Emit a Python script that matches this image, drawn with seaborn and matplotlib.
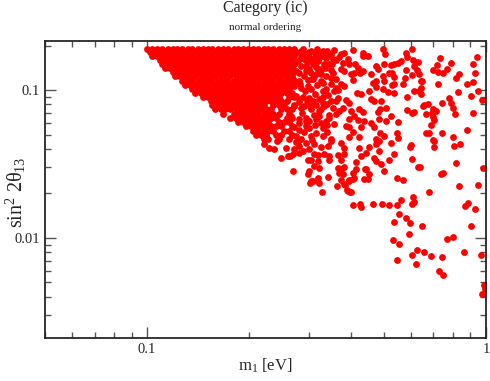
import numpy as np
import pandas as pd
import matplotlib
matplotlib.use("Agg")
import matplotlib.pyplot as plt
import matplotlib.ticker as mticker
import seaborn as sns

# dense band, read row by row (sin^2 2theta13 level -> m1 values)
row_s13 = [0.190, 0.181, 0.170, 0.160, 0.150, 0.141, 0.132, 0.124, 0.116, 0.109, 0.102, 0.096,
           0.090, 0.084, 0.079, 0.074, 0.069, 0.065, 0.061, 0.057, 0.053, 0.050, 0.047]
row_m1 = [
    [0.100, 0.1035, 0.107, 0.111, 0.115, 0.119, 0.123, 0.127, 0.132, 0.136, 0.141, 0.146, 0.151, 0.156, 0.162,
     0.168, 0.173, 0.180, 0.186, 0.192, 0.199, 0.206, 0.213, 0.221, 0.228, 0.236, 0.245, 0.253, 0.262, 0.271],
    [0.102, 0.105, 0.109, 0.113, 0.117, 0.121, 0.125, 0.129, 0.134, 0.139, 0.144, 0.149, 0.154, 0.159, 0.165,
     0.170, 0.176, 0.183, 0.189, 0.196, 0.202, 0.210, 0.217, 0.224, 0.232, 0.240, 0.249, 0.258, 0.267, 0.276],
    [0.1035, 0.107, 0.111, 0.115, 0.119, 0.123, 0.127, 0.132, 0.136, 0.141, 0.146, 0.151, 0.156, 0.162,
     0.168, 0.173, 0.180, 0.186, 0.192, 0.199, 0.206, 0.213, 0.221, 0.228, 0.236, 0.245, 0.253, 0.262, 0.271],
    [0.109, 0.113, 0.117, 0.121, 0.125, 0.129, 0.134, 0.139, 0.144, 0.149, 0.154, 0.159, 0.165,
     0.170, 0.176, 0.183, 0.189, 0.196, 0.202, 0.210, 0.217, 0.224, 0.232, 0.240, 0.249, 0.258, 0.267],
    [0.111, 0.115, 0.119, 0.123, 0.127, 0.132, 0.136, 0.141, 0.146, 0.151, 0.156, 0.162,
     0.168, 0.173, 0.180, 0.186, 0.192, 0.199, 0.206, 0.213, 0.221, 0.228, 0.236, 0.245, 0.253, 0.262, 0.271],
    [0.113, 0.117, 0.121, 0.125, 0.129, 0.134, 0.139, 0.144, 0.149, 0.154, 0.159, 0.165,
     0.170, 0.176, 0.183, 0.189, 0.196, 0.202, 0.210, 0.217, 0.224, 0.232, 0.240, 0.249, 0.258, 0.267],
    [0.119, 0.123, 0.127, 0.132, 0.136, 0.141, 0.146, 0.151, 0.156, 0.162,
     0.168, 0.173, 0.180, 0.186, 0.192, 0.199, 0.206, 0.213, 0.221, 0.228, 0.236, 0.245, 0.253, 0.262, 0.271],
    [0.121, 0.125, 0.129, 0.134, 0.139, 0.144, 0.149, 0.154, 0.159, 0.165,
     0.170, 0.176, 0.183, 0.189, 0.196, 0.202, 0.210, 0.217, 0.224, 0.232, 0.240, 0.249, 0.258, 0.267],
    [0.127, 0.132, 0.136, 0.141, 0.146, 0.151, 0.156, 0.162,
     0.168, 0.173, 0.180, 0.186, 0.192, 0.199, 0.206, 0.213, 0.221, 0.228, 0.236, 0.245, 0.253, 0.262, 0.271],
    [0.129, 0.134, 0.139, 0.144, 0.149, 0.154, 0.159, 0.165,
     0.170, 0.176, 0.183, 0.189, 0.196, 0.202, 0.210, 0.217, 0.224, 0.232, 0.240, 0.249, 0.258, 0.267],
    [0.136, 0.141, 0.146, 0.151, 0.156, 0.162,
     0.168, 0.173, 0.180, 0.186, 0.192, 0.199, 0.206, 0.213, 0.221, 0.228, 0.236, 0.245, 0.253, 0.262],
    [0.139, 0.144, 0.149, 0.154, 0.159, 0.165,
     0.170, 0.176, 0.183, 0.189, 0.196, 0.202, 0.210, 0.217, 0.224, 0.232, 0.240, 0.249, 0.258, 0.267],
    [0.146, 0.151, 0.156, 0.162,
     0.168, 0.173, 0.180, 0.186, 0.192, 0.199, 0.206, 0.213, 0.221, 0.228, 0.236, 0.245, 0.262, 0.271],
    [0.154, 0.159, 0.165,
     0.170, 0.176, 0.183, 0.189, 0.196, 0.202, 0.210, 0.217, 0.224, 0.232, 0.240, 0.249, 0.258],
    [0.156, 0.162,
     0.168, 0.173, 0.180, 0.186, 0.192, 0.199, 0.206, 0.213, 0.221, 0.236, 0.245, 0.253, 0.271],
    [0.159, 0.165,
     0.170, 0.176, 0.183, 0.189, 0.196, 0.202, 0.210, 0.217, 0.224, 0.232, 0.249, 0.258, 0.267],
    [0.168, 0.180, 0.186, 0.192, 0.199, 0.206, 0.213, 0.221, 0.228, 0.236, 0.245, 0.262],
    [0.176, 0.183, 0.189, 0.196, 0.202, 0.210, 0.217, 0.224, 0.232, 0.240, 0.258, 0.267],
    [0.186, 0.192, 0.199, 0.206, 0.213, 0.221, 0.228, 0.245, 0.253, 0.262],
    [0.196, 0.202, 0.210, 0.217, 0.224, 0.232, 0.240, 0.249, 0.267],
    [0.206, 0.213, 0.221, 0.228, 0.236, 0.253, 0.262],
    [0.210, 0.217, 0.224, 0.240, 0.249, 0.267],
    [0.221, 0.228, 0.245, 0.262],
]

# the band thinning out between m1 ~ 0.27 and 0.36
band_edge = [
    (0.288, 0.190), (0.300, 0.181), (0.318, 0.190), (0.340, 0.183), (0.357, 0.188), (0.290, 0.172),
    (0.312, 0.170), (0.345, 0.172), (0.362, 0.160), (0.279, 0.157), (0.297, 0.155), (0.320, 0.158),
    (0.336, 0.142), (0.300, 0.139), (0.290, 0.125), (0.312, 0.127), (0.338, 0.124), (0.360, 0.118),
    (0.283, 0.110), (0.318, 0.108), (0.350, 0.110), (0.292, 0.098), (0.314, 0.094), (0.342, 0.093),
    (0.280, 0.083), (0.296, 0.084), (0.340, 0.081), (0.316, 0.079), (0.286, 0.070), (0.310, 0.068),
    (0.345, 0.068), (0.280, 0.060), (0.326, 0.060), (0.290, 0.052), (0.340, 0.052), (0.278, 0.045),
    (0.310, 0.043), (0.300, 0.040), (0.284, 0.166), (0.306, 0.160), (0.328, 0.176), (0.352, 0.150),
    (0.294, 0.146), (0.325, 0.140), (0.348, 0.136), (0.306, 0.118), (0.330, 0.112), (0.288, 0.090),
    (0.330, 0.090), (0.356, 0.098), (0.302, 0.078), (0.322, 0.072), (0.294, 0.062), (0.312, 0.058),
    (0.340, 0.058), (0.306, 0.046), (0.330, 0.049), (0.360, 0.084),
]

# scattered points between m1 ~ 0.27 and 0.52, upper half
mid_upper = [
    (0.270, 0.185), (0.281, 0.179), (0.285, 0.185), (0.295, 0.176), (0.305, 0.185), (0.315, 0.179),
    (0.330, 0.185), (0.349, 0.176), (0.373, 0.176), (0.381, 0.179), (0.405, 0.188), (0.433, 0.179),
    (0.448, 0.171), (0.496, 0.191), (0.502, 0.176), (0.266, 0.163), (0.291, 0.163), (0.301, 0.168),
    (0.322, 0.166), (0.330, 0.171), (0.337, 0.166), (0.354, 0.163), (0.368, 0.168), (0.391, 0.163),
    (0.433, 0.171), (0.272, 0.151), (0.285, 0.146), (0.309, 0.151), (0.315, 0.144), (0.332, 0.151),
    (0.344, 0.151), (0.378, 0.153), (0.394, 0.151), (0.410, 0.151), (0.419, 0.141), (0.473, 0.146),
    (0.479, 0.139), (0.499, 0.151), (0.275, 0.135), (0.281, 0.131), (0.295, 0.135), (0.305, 0.131),
    (0.319, 0.137), (0.326, 0.129), (0.354, 0.131), (0.373, 0.139), (0.381, 0.135), (0.399, 0.129),
    (0.407, 0.131), (0.424, 0.131), (0.433, 0.135), (0.457, 0.129), (0.496, 0.125), (0.516, 0.131),
    (0.270, 0.119), (0.281, 0.116), (0.299, 0.117), (0.309, 0.119), (0.326, 0.116), (0.349, 0.121),
    (0.373, 0.110), (0.405, 0.117), (0.463, 0.112), (0.473, 0.116), (0.499, 0.116), (0.272, 0.107),
    (0.285, 0.103), (0.299, 0.107), (0.305, 0.102), (0.330, 0.099), (0.337, 0.102), (0.361, 0.103),
    (0.366, 0.100), (0.381, 0.107), (0.416, 0.096), (0.427, 0.094), (0.451, 0.099), (0.473, 0.105),
    (0.496, 0.102), (0.513, 0.097), (0.266, 0.094), (0.275, 0.0915), (0.281, 0.087), (0.301, 0.088),
    (0.309, 0.0846), (0.322, 0.087), (0.330, 0.082), (0.349, 0.0846), (0.366, 0.088), (0.386, 0.086),
    (0.394, 0.082), (0.457, 0.087), (0.466, 0.0846), (0.489, 0.0846), (0.272, 0.078), (0.285, 0.076),
    (0.291, 0.078), (0.305, 0.074), (0.326, 0.074), (0.332, 0.078), (0.354, 0.076), (0.368, 0.072),
    (0.378, 0.076), (0.399, 0.072), (0.422, 0.074), (0.433, 0.071), (0.479, 0.071), (0.486, 0.074),
    (0.506, 0.076), (0.266, 0.067), (0.281, 0.064), (0.295, 0.065), (0.301, 0.062), (0.315, 0.064),
    (0.322, 0.067), (0.337, 0.062), (0.344, 0.065), (0.361, 0.069), (0.394, 0.064), (0.407, 0.067),
    (0.419, 0.063), (0.436, 0.062), (0.457, 0.060), (0.482, 0.064), (0.506, 0.062), (0.272, 0.056),
    (0.281, 0.054), (0.295, 0.057), (0.301, 0.055), (0.315, 0.051), (0.330, 0.055), (0.356, 0.059),
    (0.386, 0.057), (0.394, 0.056), (0.405, 0.052), (0.427, 0.056), (0.466, 0.056), (0.486, 0.051),
    (0.499, 0.049), (0.275, 0.049), (0.285, 0.047), (0.305, 0.049), (0.349, 0.047), (0.394, 0.048),
    (0.422, 0.048), (0.473, 0.047),
]

# lower edge of the band and points just below it
mid_lower = [
    (0.222, 0.0432), (0.229, 0.0406), (0.237, 0.0400), (0.241, 0.0453), (0.257, 0.0406), (0.261, 0.0358),
    (0.265, 0.0358), (0.249, 0.0347), (0.275, 0.0446), (0.281, 0.0419), (0.272, 0.0400), (0.281, 0.0376),
    (0.289, 0.0388), (0.270, 0.0370), (0.295, 0.0439), (0.326, 0.0412), (0.342, 0.0419), (0.349, 0.0453),
    (0.373, 0.0439), (0.381, 0.0406), (0.422, 0.0406), (0.451, 0.0412), (0.473, 0.0432), (0.482, 0.0453),
    (0.311, 0.0370), (0.319, 0.0364), (0.332, 0.0370), (0.344, 0.0358), (0.366, 0.0364), (0.381, 0.0370),
    (0.427, 0.0358), (0.442, 0.0376), (0.482, 0.0388), (0.299, 0.0336), (0.305, 0.0336), (0.319, 0.0331),
    (0.344, 0.0336), (0.373, 0.0336), (0.466, 0.0347), (0.473, 0.0331), (0.311, 0.0306), (0.322, 0.0296),
    (0.366, 0.0296), (0.373, 0.0292), (0.381, 0.0301), (0.413, 0.0326), (0.301, 0.0283), (0.368, 0.0274),
    (0.378, 0.0270), (0.405, 0.0274), (0.442, 0.0292), (0.305, 0.0242), (0.381, 0.0231), (0.394, 0.0242),
    (0.405, 0.0250), (0.448, 0.0250), (0.391, 0.0207), (0.399, 0.0204),
]

# right part, m1 > 0.52, upper half
right_upper = [
    (0.607, 0.190), (0.579, 0.179), (0.583, 0.168), (0.560, 0.158), (0.549, 0.153), (0.537, 0.151),
    (0.523, 0.148), (0.611, 0.161), (0.615, 0.146), (0.632, 0.155), (0.624, 0.137), (0.579, 0.137),
    (0.603, 0.127), (0.636, 0.129), (0.527, 0.131), (0.534, 0.123), (0.575, 0.121), (0.645, 0.1156),
    (0.733, 0.165), (0.718, 0.148), (0.699, 0.137), (0.723, 0.133), (0.790, 0.153), (0.748, 0.131),
    (0.769, 0.139), (0.834, 0.129), (0.817, 0.121), (0.941, 0.168), (0.916, 0.151), (0.929, 0.131),
    (0.880, 0.110), (0.916, 0.114), (0.948, 0.0989), (0.973, 0.0860), (0.571, 0.110), (0.537, 0.110),
    (0.537, 0.0958), (0.527, 0.108), (0.583, 0.0901), (0.615, 0.0989), (0.641, 0.104), (0.649, 0.116),
    (0.645, 0.0944), (0.636, 0.0989), (0.723, 0.110), (0.828, 0.0973), (0.904, 0.0915), (0.779, 0.0887),
    (0.743, 0.0820), (0.790, 0.0820), (0.800, 0.0758), (0.811, 0.0690), (0.916, 0.0701), (0.654, 0.0782),
    (0.658, 0.0795), (0.676, 0.0808), (0.583, 0.0736), (0.607, 0.0701), (0.615, 0.0712), (0.667, 0.0690),
    (0.694, 0.0701), (0.699, 0.0747), (0.713, 0.0724), (0.699, 0.0658), (0.549, 0.0609), (0.523, 0.0669),
    (0.690, 0.0582), (0.704, 0.0628), (0.880, 0.0539), (0.667, 0.0514), (0.681, 0.0514), (0.743, 0.0514),
    (0.545, 0.0514), (0.549, 0.0475), (0.699, 0.0460), (0.800, 0.0483), (0.523, 0.0439), (0.537, 0.0370),
    (0.595, 0.0412), (0.599, 0.0425), (0.704, 0.0453), (0.704, 0.0412), (0.806, 0.0419), (0.839, 0.0432),
]

# tail towards small sin^2 2theta13
tail = [
    (0.270, 0.0283), (0.299, 0.0270), (0.303, 0.0234), (0.309, 0.0242), (0.322, 0.0234), (0.320, 0.0254),
    (0.328, 0.0204), (0.342, 0.0258), (0.363, 0.0224), (0.373, 0.0246), (0.384, 0.0228), (0.389, 0.0211),
    (0.397, 0.0204), (0.394, 0.0246), (0.405, 0.0166), (0.407, 0.0254), (0.413, 0.0292), (0.424, 0.0169),
    (0.427, 0.0161), (0.436, 0.0250), (0.439, 0.0292), (0.451, 0.0270), (0.463, 0.0169), (0.489, 0.0316),
    (0.492, 0.0169), (0.499, 0.0283), (0.516, 0.0166), (0.516, 0.0336), (0.530, 0.0096), (0.534, 0.0128),
    (0.545, 0.0166), (0.545, 0.00706), (0.545, 0.0254), (0.552, 0.0145), (0.552, 0.0091), (0.563, 0.0180),
    (0.571, 0.0246), (0.579, 0.0136), (0.591, 0.0106), (0.595, 0.0126), (0.603, 0.0341), (0.603, 0.0077),
    (0.607, 0.0169), (0.611, 0.0189), (0.615, 0.0174), (0.620, 0.0067), (0.628, 0.0083), (0.632, 0.0301),
    (0.637, 0.0301), (0.649, 0.0120), (0.658, 0.0080), (0.681, 0.0204), (0.690, 0.0075), (0.728, 0.0060),
    (0.738, 0.0270), (0.748, 0.0274), (0.748, 0.0056), (0.743, 0.0074), (0.769, 0.0098), (0.800, 0.0101),
    (0.817, 0.0321), (0.834, 0.0224), (0.862, 0.0080), (0.868, 0.0164), (0.886, 0.0172), (0.904, 0.0120),
    (0.929, 0.0156), (0.948, 0.0228), (0.967, 0.0077), (0.980, 0.0296), (0.987, 0.0048), (0.993, 0.0045),
    (0.973, 0.0042),
]

m1_vals = [m for row in row_m1 for m in row]
s13_vals = [s for s, row in zip(row_s13, row_m1) for _ in row]
for pts in (band_edge, mid_upper, mid_lower, right_upper, tail):
    m1_vals += [p[0] for p in pts]
    s13_vals += [p[1] for p in pts]

df = pd.DataFrame({"m1": m1_vals, "s13": s13_vals})

sns.set_style("ticks")
plt.rcParams["font.family"] = ["Liberation Serif", "DejaVu Serif"]
plt.rcParams["mathtext.fontset"] = "custom"
plt.rcParams["mathtext.rm"] = "Liberation Serif"
plt.rcParams["mathtext.it"] = "Liberation Serif:italic"
plt.rcParams["mathtext.default"] = "regular"

fig = plt.figure(figsize=(4.9, 3.81), dpi=100)
ax = fig.add_axes([0.0918, 0.1129, 0.9, 0.7795])

sns.scatterplot(data=df, x="m1", y="s13", ax=ax, color="#ff0000",
                s=24, linewidth=0, legend=False)

ax.set_xscale("log")
ax.set_yscale("log")
ax.set_xlim(0.05, 1.0)
ax.set_ylim(0.0021, 0.215)

fmt = mticker.FuncFormatter(lambda v, p: "%g" % v)
ax.xaxis.set_major_formatter(fmt)
ax.yaxis.set_major_formatter(fmt)
ax.xaxis.set_minor_formatter(mticker.NullFormatter())
ax.yaxis.set_minor_formatter(mticker.NullFormatter())
ax.tick_params(which="both", direction="in", top=True, right=True, labelsize=10.5, color="#555555")
ax.tick_params(which="major", length=8, width=1)
ax.tick_params(which="minor", length=4, width=1)
for sp in ax.spines.values():
    sp.set_linewidth(1.3)

ax.set_xlabel(r"$m_1$ [eV]", fontsize=12)
ax.set_ylabel(r"$\sin^2\, 2\theta_{13}$", fontsize=14.5)
ax.xaxis.set_label_coords(0.5, -0.062)
ax.yaxis.set_label_coords(-0.038, 0.49)

fig.text(0.5418, 0.979, "Category (ic)", ha="center", va="center", fontsize=11.5)
fig.text(0.5418, 0.929, "normal ordering", ha="center", va="center", fontsize=8)

fig.savefig("out.png", dpi=100)
